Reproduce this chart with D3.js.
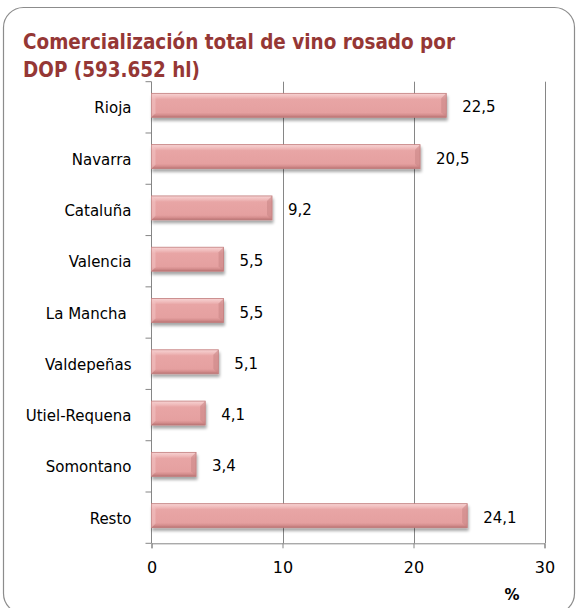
<!DOCTYPE html>
<html><head><meta charset="utf-8">
<script src="https://cdn.jsdelivr.net/npm/d3@7"></script>
<style>
html,body{margin:0;padding:0;background:#fff;}
svg{display:block;}
text{font-family:"DejaVu Sans",sans-serif;}
</style></head>
<body>
<svg id="chart" width="576" height="608"></svg>
<script>
const titleLines = ["Comercialización total de vino rosado por", "DOP (593.652 hl)"];
const categories = ["Rioja","Navarra","Cataluña","Valencia","La Mancha ","Valdepeñas","Utiel-Requena","Somontano","Resto"];
const values = [22.5, 20.5, 9.2, 5.5, 5.5, 5.1, 4.1, 3.4, 24.1];
const valueLabels = ["22,5","20,5","9,2","5,5","5,5","5,1","4,1","3,4","24,1"];
const xTicks = [0, 10, 20, 30];
const xUnit = "%";

(function(){
const svg = d3.select("#chart");
const pL = 151.5, pR = 544.5, pT = 81.7, pB = 543.3;
const grid = "#868686";

// frame
svg.append("rect").attr("x",3.5).attr("y",7.5).attr("width",571).attr("height",606)
  .attr("rx",20).attr("fill","#fff").attr("stroke","#8c8c8c").attr("stroke-width",1.2);

// defs
const defs = svg.append("defs");
const g1 = defs.append("linearGradient").attr("id","barGrad").attr("x1",0).attr("y1",0).attr("x2",0).attr("y2",1);
[[0,"#f7d3d3"],[0.14,"#f0bcbc"],[0.25,"#e8a5a5"],[0.8,"#e5a0a0"],[0.9,"#d58e8e"],[1,"#b87272"]]
  .forEach(([o,c])=>g1.append("stop").attr("offset",o).attr("stop-color",c));
const f = defs.append("filter").attr("id","shadow").attr("x","-5%").attr("y","-30%").attr("width","115%").attr("height","180%");
f.append("feGaussianBlur").attr("in","SourceAlpha").attr("stdDeviation",1.8).attr("result","b");
f.append("feOffset").attr("in","b").attr("dx",1).attr("dy",3).attr("result","o");
f.append("feComponentTransfer").attr("in","o").attr("result","s")
  .append("feFuncA").attr("type","linear").attr("slope",0.35);
const m = f.append("feMerge");
m.append("feMergeNode").attr("in","s");
m.append("feMergeNode").attr("in","SourceGraphic");

// title
const title = svg.append("text").attr("fill","#953735").attr("font-weight","bold").attr("font-size",21)
  .style("font-family","'DejaVu Sans Condensed','DejaVu Sans',sans-serif");
title.append("tspan").attr("x",23).attr("y",48.5).attr("textLength",432).attr("lengthAdjust","spacingAndGlyphs").text(titleLines[0]);
title.append("tspan").attr("x",23).attr("y",76.5).attr("textLength",177).attr("lengthAdjust","spacingAndGlyphs").text(titleLines[1]);

const x = d3.scaleLinear().domain([0,30]).range([pL,pR]);
const y = d3.scaleBand().domain(categories).range([pT,pB]).paddingInner(0).paddingOuter(0);

// gridlines
svg.append("g").selectAll("line").data(xTicks.filter(d=>d>0)).join("line")
  .attr("x1",d=>Math.round(x(d))+0.5).attr("x2",d=>Math.round(x(d))+0.5)
  .attr("y1",pT).attr("y2",pB).attr("stroke",grid).attr("stroke-width",1);

// bottom axis
const xAxis = svg.append("g").attr("transform",`translate(0,${pB})`)
  .call(d3.axisBottom(x).tickValues(xTicks).tickSize(5).tickPadding(13).tickFormat(d3.format("d")));
xAxis.select(".domain").attr("stroke",grid);
xAxis.selectAll(".tick line").attr("stroke",grid);
xAxis.selectAll(".tick text").attr("font-size",16).attr("fill","#000").attr("font-family","DejaVu Sans");

// left axis line and ticks at band boundaries
const bounds = categories.map(c=>y(c)).concat([pB]);
svg.append("line").attr("x1",pL).attr("x2",pL).attr("y1",pT).attr("y2",pB).attr("stroke",grid);
svg.append("g").selectAll("line").data(bounds).join("line")
  .attr("x1",pL-6).attr("x2",pL).attr("y1",d=>d).attr("y2",d=>d).attr("stroke",grid);

// category labels
svg.append("g").selectAll("text").data(categories).join("text")
  .attr("x",131.5).attr("y",d=>y(d)+y.bandwidth()/2+1).attr("text-anchor","end")
  .attr("dominant-baseline","central").attr("font-size",15).attr("fill","#000")
  .style("white-space","pre").text(d=>d);

// bars
const bh = 24;
const bars = svg.append("g").selectAll("g").data(categories).join("g");
bars.append("rect")
  .attr("x",x(0)).attr("y",d=>y(d)+y.bandwidth()/2-2-bh/2)
  .attr("width",(d,i)=>x(values[i])-x(0)).attr("height",bh)
  .attr("fill","url(#barGrad)").attr("stroke","#c17c7c").attr("stroke-width",0.8)
  .attr("filter","url(#shadow)");
bars.append("path").attr("d",(d,i)=>{
  const x1 = x(values[i]), y0 = y(d)+y.bandwidth()/2-2-bh/2, b=5;
  return `M${x1},${y0} L${x1-b},${y0+b} L${x1-b},${y0+bh-b} L${x1},${y0+bh} Z`;
}).attr("fill","#c98585").attr("opacity",0.55);
bars.append("path").attr("d",(d,i)=>{
  const x0 = x(0), y0 = y(d)+y.bandwidth()/2-2-bh/2, b=4;
  return `M${x0},${y0} L${x0+b},${y0+b} L${x0+b},${y0+bh-b} L${x0},${y0+bh} Z`;
}).attr("fill","#f4c8c8").attr("opacity",0.5);

// value labels
svg.append("g").selectAll("text").data(categories).join("text")
  .attr("x",(d,i)=>x(values[i])+16).attr("y",d=>y(d)+y.bandwidth()/2)
  .attr("dominant-baseline","central").attr("font-size",15).attr("fill","#000")
  .text((d,i)=>valueLabels[i]);

// unit label
svg.append("text").attr("x",512).attr("y",600).attr("text-anchor","middle")
  .attr("font-size",15).attr("font-weight","bold").attr("fill","#000").text(xUnit);
})();
</script>
</body></html>
